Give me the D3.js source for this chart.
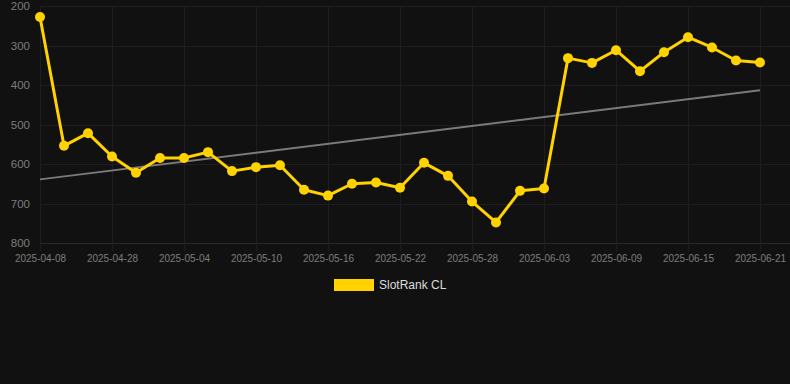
<!DOCTYPE html>
<html>
<head>
<meta charset="utf-8">
<script src="https://cdn.jsdelivr.net/npm/d3@7"></script>
<style>
  html, body { margin: 0; padding: 0; background: #111111; }
  svg { display: block; font-family: "Liberation Sans", Arial, sans-serif; }
</style>
</head>
<body>
<svg id="chart"></svg>
<script>
// categories (one per point) and the rank values
const dates = [
  '2025-04-08', '2025-04-15', '2025-04-22', '2025-04-28', '2025-04-30', '2025-05-02',
  '2025-05-04', '2025-05-06', '2025-05-08', '2025-05-10', '2025-05-12', '2025-05-14',
  '2025-05-16', '2025-05-18', '2025-05-20', '2025-05-22', '2025-05-24', '2025-05-26',
  '2025-05-28', '2025-05-30', '2025-06-01', '2025-06-03', '2025-06-05', '2025-06-07',
  '2025-06-09', '2025-06-11', '2025-06-13', '2025-06-15', '2025-06-17', '2025-06-19',
  '2025-06-21'
]
const ranks = [
  228, 554, 522, 581, 622, 585, 585, 570, 618, 608, 603, 665,
  680, 650, 647, 660, 597, 630, 695, 748, 668, 662, 332, 344,
  312, 365, 317, 279, 305, 338, 343
]
const yTicks = [200, 300, 400, 500, 600, 700, 800]
const seriesName = 'SlotRank CL'

const width = 790
const height = 384
const gold = '#ffd200'

const svg = d3.select('#chart')
    .attr('width', width)
    .attr('height', height)

svg.append('rect')
    .attr('width', width)
    .attr('height', height)
    .attr('fill', '#111111')

// rank axis is reversed: best rank at the top
const yScale = d3.scaleLinear()
    .domain([200, 800])
    .range([6, 243])

const xScale = d3.scalePoint()
    .domain(dates)
    .range([40, 760])

const shownDates = dates.filter((d, i) => i % 3 === 0)

// grid
svg.append('g')
    .selectAll('line')
    .data(yTicks)
    .join('line')
    .attr('x1', 40)
    .attr('x2', width)
    .attr('y1', d => Math.round(yScale(d)) + 0.5)
    .attr('y2', d => Math.round(yScale(d)) + 0.5)
    .attr('stroke', d => d === 800 ? '#2a2a2a' : '#1e1e1e')

svg.append('g')
    .selectAll('line')
    .data(shownDates)
    .join('line')
    .attr('x1', d => xScale(d) + 0.5)
    .attr('x2', d => xScale(d) + 0.5)
    .attr('y1', yScale(200))
    .attr('y2', yScale(800) + 8)
    .attr('stroke', '#1e1e1e')

// axes labels
const yAxis = svg.append('g')
    .attr('transform', 'translate(30,0)')
    .call(d3.axisLeft(yScale).tickValues(yTicks).tickSize(0).tickPadding(0))
yAxis.select('.domain').remove()
yAxis.selectAll('text')
    .attr('fill', '#7d7d7d')
    .attr('font-size', 11.5)

const xAxis = svg.append('g')
    .attr('transform', `translate(0,${yScale(800)})`)
    .call(d3.axisBottom(xScale).tickValues(shownDates).tickSize(0).tickPadding(12))
xAxis.select('.domain').remove()
xAxis.selectAll('text')
    .attr('fill', '#7d7d7d')
    .attr('font-size', 10)

// trend line: least squares fit of rank against point index
const idx = ranks.map((v, i) => i)
const mx = d3.mean(idx)
const my = d3.mean(ranks)
const slope = d3.sum(idx, i => (i - mx) * (ranks[i] - my)) / d3.sum(idx, i => (i - mx) * (i - mx))
const intercept = my - slope * mx
const trend = [0, dates.length - 1].map(i => ({ date: dates[i], value: intercept + slope * i }))

svg.append('path')
    .datum(trend)
    .attr('d', d3.line().x(d => xScale(d.date)).y(d => yScale(d.value)))
    .attr('fill', 'none')
    .attr('stroke', '#7a7a7a')
    .attr('stroke-width', 2)

// series
const points = dates.map((d, i) => ({ date: d, value: ranks[i] }))

svg.append('path')
    .datum(points)
    .attr('d', d3.line().x(d => xScale(d.date)).y(d => yScale(d.value)))
    .attr('fill', 'none')
    .attr('stroke', gold)
    .attr('stroke-width', 3)
    .attr('stroke-linejoin', 'round')

svg.append('g')
    .selectAll('circle')
    .data(points)
    .join('circle')
    .attr('cx', d => xScale(d.date))
    .attr('cy', d => yScale(d.value))
    .attr('r', 5)
    .attr('fill', gold)

// legend
const legend = svg.append('g')
    .attr('transform', 'translate(334,279)')
legend.append('rect')
    .attr('width', 40)
    .attr('height', 12)
    .attr('fill', gold)
legend.append('text')
    .attr('x', 45)
    .attr('y', 6)
    .attr('dy', '0.35em')
    .attr('fill', '#dddddd')
    .attr('font-size', 12)
    .text(seriesName)
</script>
</body>
</html>
